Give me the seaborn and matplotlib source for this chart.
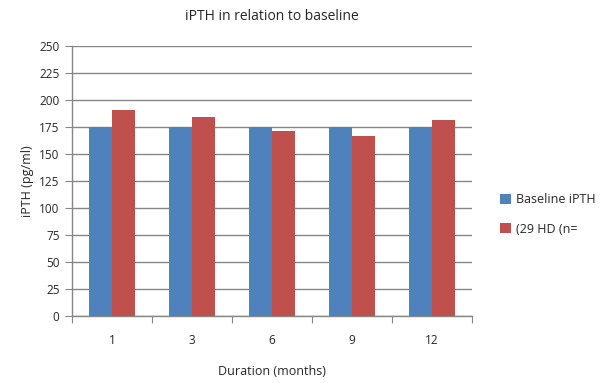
import pandas as pd
import numpy as np
import seaborn as sns
import matplotlib.pyplot as plt

# Data
durations = ["1", "3", "6", "9", "12"]
baseline_ipth = [175, 175, 175, 175, 175]
followup_ipth = [191, 184, 171, 167, 181]
series_names = ["Baseline iPTH", "(29 HD (n="]

data = pd.DataFrame({
    "Duration": durations * 2,
    "iPTH": baseline_ipth + followup_ipth,
    "Series": [series_names[0]] * len(durations) + [series_names[1]] * len(durations),
})

sns.set_style("white")
plt.rcParams["font.family"] = ["Open Sans", "DejaVu Sans"]

fig = plt.figure(figsize=(6, 3.83), dpi=100)
ax = fig.add_axes([0.12, 0.175, 0.667, 0.705])

sns.barplot(data=data, x="Duration", y="iPTH", hue="Series",
            palette=["#4F81BD", "#C0504D"], width=0.58, gap=0, saturation=1,
            linewidth=0, ax=ax, zorder=3)

ax.set_ylim(0, 250)
ax.set_yticks(np.arange(0, 251, 25))
ax.set_xlim(-0.5, len(durations) - 0.5)
ax.grid(axis="y", color="#868686", linewidth=1, zorder=0)

# category separator ticks on the x axis, labels centred between them
ax.set_xticks(np.arange(-0.5, len(durations), 1))
ax.set_xticklabels([])
ax.set_xticks(range(len(durations)), minor=True)
ax.set_xticklabels(durations, minor=True)
ax.tick_params(axis="x", which="major", length=5, color="#868686", direction="out")
ax.tick_params(axis="x", which="minor", length=0, pad=13, labelsize=8.5)
ax.tick_params(axis="y", length=5, color="#868686", direction="out", labelsize=8.5, pad=4)
ax.tick_params(left=True, bottom=True)

for side in ["top", "right"]:
    ax.spines[side].set_visible(False)
for side in ["left", "bottom"]:
    ax.spines[side].set_color("#868686")
    ax.spines[side].set_linewidth(1)

ax.set_xlabel("Duration (months)", fontsize=9, labelpad=13)
ax.set_ylabel("iPTH (pg/ml)", fontsize=9)
ax.set_title("iPTH in relation to baseline", fontsize=10, pad=19)

handles, labels = ax.get_legend_handles_labels()
ax.get_legend().remove()
fig.legend(handles, labels, loc="center left", bbox_to_anchor=(0.815, 0.44),
           frameon=False, fontsize=9, handlelength=0.9, handleheight=0.9,
           handletextpad=0.4, labelspacing=1.3)

fig.savefig("out.png", dpi=100)
